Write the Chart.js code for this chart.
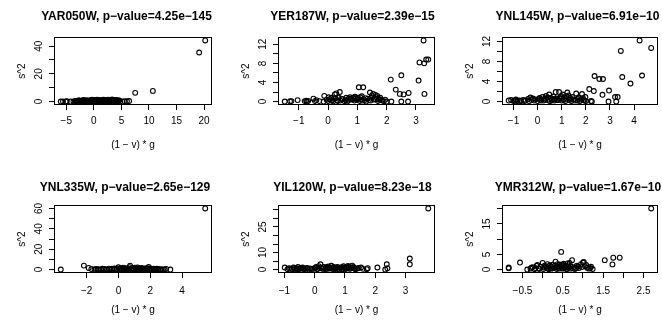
<!DOCTYPE html>
<html>
<head>
<meta charset="utf-8">
<script src="https://cdn.jsdelivr.net/npm/chart.js@4.4.1/dist/chart.umd.min.js"></script>
<style>
  body { margin: 0; background: #fff; }
  #wrap { position: relative; width: 662px; height: 325px; }
  #wrap canvas { position: absolute; left: 0; top: 0; }
</style>
</head>
<body>
<div id="wrap"></div>
<script>
// panel titles
const genes = ['YAR050W', 'YER187W', 'YNL145W', 'YNL335W', 'YIL120W', 'YMR312W'];
const pValues = ['4.25e-145', '2.39e-15', '6.91e-10', '2.65e-129', '8.23e-18', '1.67e-10'];

// points as [(1 - v) * g, s^2]
const yar050w = [
  [-6.0, 0.0], [-5.6, 0.1], [-5.1, 0.0], [-4.9, 0.2], [-4.2, 0.0], [-3.7, 0.1], [-3.4, 0.3], [-3.3, 0.4],
  [-3.1, 0.0], [-3.0, 0.2], [-2.9, 0.5], [-2.7, 0.9], [-2.6, 0.2], [-2.4, 0.0], [-2.3, 0.1], [-2.2, 0.6],
  [-2.1, 0.4], [-2.0, 0.3], [-1.9, 1.1], [-1.8, 0.1], [-1.6, 0.8], [-1.5, 0.2], [-1.4, 0.4], [-1.3, 0.9],
  [-1.2, 0.0], [-1.1, 0.5], [-1.0, 0.7], [-0.8, 0.2], [-0.7, 0.8], [-0.6, 1.0], [-0.5, 0.3], [-0.4, 0.5],
  [-0.3, 1.3], [-0.2, 0.1], [0.0, 0.9], [0.05, 0.3], [0.1, 0.6], [0.2, 0.3], [0.3, 1.2], [0.4, 0.7],
  [0.5, 0.6], [0.6, 1.4], [0.7, 0.0], [0.8, 0.2], [0.9, 0.8], [1.0, 1.1], [1.1, 0.1], [1.2, 0.4],
  [1.3, 0.7], [1.4, 0.2], [1.5, 0.5], [1.6, 0.9], [1.7, 1.3], [1.8, 0.3], [1.9, 0.5], [2.0, 1.2],
  [2.1, 0.0], [2.2, 0.8], [2.3, 1.0], [2.4, 0.2], [2.5, 0.7], [2.6, 1.4], [2.7, 0.6], [2.8, 0.3],
  [2.9, 1.1], [3.0, 0.8], [3.1, 0.4], [3.2, 1.2], [3.3, 1.5], [3.4, 0.1], [3.5, 0.6], [3.6, 0.3],
  [3.7, 1.0], [3.8, 0.7], [3.9, 0.4], [4.0, 1.1], [4.1, 0.2], [4.2, 0.3], [4.3, 0.9], [4.4, 0.6],
  [4.5, 0.5], [4.6, 0.8], [4.8, 0.1], [5.2, 0.0], [5.6, 0.3], [6.0, 0.2], [6.4, 0.4],
  [7.5, 6.3], [10.7, 7.7], [19.1, 35.4], [20.2, 44.1]
];
const yer187w = [
  [-1.48, 0.0], [-1.3, 0.05], [-1.25, 0.1], [-1.04, 0.3], [-0.8, 0.1], [-0.75, 0.2], [-0.72, 0.0], [-0.68, 0.15],
  [-0.5, 0.6], [-0.45, 0.1], [-0.4, 0.3], [-0.3, 0.1], [-0.15, 0.0], [-0.13, 1.2], [-0.05, 0.4], [0.0, 0.1],
  [0.02, 0.9], [0.05, 0.5], [0.1, 0.2], [0.12, 0.8], [0.15, 0.3], [0.18, 0.05], [0.2, 0.6], [0.23, 1.5],
  [0.25, 0.7], [0.28, 1.7], [0.3, 0.3], [0.33, 0.1], [0.35, 0.9], [0.4, 2.0], [0.42, 0.2], [0.45, 0.6],
  [0.5, 0.5], [0.55, 0.1], [0.6, 0.3], [0.62, 0.8], [0.65, 0.0], [0.68, 0.2], [0.7, 0.6], [0.75, 0.9],
  [0.78, 0.5], [0.8, 0.4], [0.85, 0.8], [0.88, 0.6], [0.9, 0.2], [0.92, 1.0], [0.95, 0.7], [0.98, 0.3],
  [1.0, 0.5], [1.02, 0.8], [1.05, 3.0], [1.08, 0.1], [1.1, 0.9], [1.12, 0.4], [1.15, 1.1], [1.18, 0.2],
  [1.2, 3.0], [1.25, 0.3], [1.28, 0.7], [1.3, 0.0], [1.35, 0.6], [1.4, 0.3], [1.43, 1.9], [1.45, 0.2],
  [1.48, 0.8], [1.5, 1.3], [1.54, 1.6], [1.58, 0.4], [1.6, 0.6], [1.62, 1.4], [1.65, 0.9], [1.68, 1.2],
  [1.7, 0.1], [1.72, 0.4], [1.75, 0.5], [1.78, 0.8], [1.8, 0.3], [1.85, 0.2], [1.9, 0.1], [1.95, 0.4],
  [2.0, 0.0], [2.14, 4.6], [2.16, 0.0], [2.31, 2.5], [2.45, 1.6], [2.5, 5.5], [2.5, 0.0], [2.58, 1.5],
  [2.73, 0.0], [2.75, 1.8], [3.09, 4.4], [3.12, 8.2], [3.26, 12.8], [3.28, 8.0], [3.29, 1.6], [3.35, 8.8],
  [3.42, 8.8]
];
const ynl145w = [
  [-1.2, 0.2], [-1.1, 0.3], [-1.0, 0.1], [-0.95, 0.2], [-0.9, 0.4], [-0.85, 0.1], [-0.75, 0.2], [-0.7, 0.1],
  [-0.6, 0.3], [-0.55, 0.1], [-0.5, 0.2], [-0.4, 0.5], [-0.35, 0.1], [-0.3, 0.8], [-0.25, 0.3], [-0.2, 0.6],
  [-0.15, 0.2], [-0.1, 0.4], [0.0, 0.1], [0.05, 0.5], [0.08, 0.7], [0.1, 0.3], [0.15, 0.2], [0.2, 0.9],
  [0.25, 0.2], [0.28, 0.4], [0.3, 0.6], [0.35, 1.1], [0.4, 0.3], [0.42, 0.8], [0.48, 1.4], [0.5, 0.1],
  [0.55, 0.7], [0.58, 0.2], [0.6, 0.4], [0.65, 1.0], [0.68, 0.5], [0.7, 0.2], [0.75, 1.9], [0.78, 0.3],
  [0.8, 0.6], [0.85, 0.3], [0.89, 1.9], [0.92, 0.6], [0.95, 0.9], [0.98, 1.1], [1.0, 0.2], [1.05, 1.4],
  [1.08, 0.3], [1.1, 0.5], [1.15, 0.1], [1.18, 0.7], [1.2, 1.0], [1.23, 1.8], [1.28, 1.2], [1.3, 0.3],
  [1.35, 0.7], [1.38, 0.4], [1.4, 0.1], [1.45, 0.9], [1.5, 0.4], [1.55, 0.2], [1.6, 1.6], [1.65, 0.2],
  [1.68, 0.5], [1.7, 0.8], [1.75, 0.1], [1.8, 0.4], [1.84, 1.5], [1.88, 0.7], [1.9, 0.3], [1.94, 0.2],
  [1.98, 0.9], [2.0, 0.1], [2.14, 2.5], [2.21, 0.1], [2.25, 0.0], [2.33, 2.1], [2.36, 5.1], [2.56, 4.5],
  [2.69, 1.35], [2.71, 4.5], [2.94, 0.0], [2.96, 2.2], [3.21, 0.9], [3.26, 0.0], [3.32, 0.9], [3.45, 10.1],
  [3.51, 4.9], [3.85, 3.6], [4.23, 12.2], [4.33, 5.2], [4.71, 10.7]
];
const ynl335w = [
  [-3.62, 0.0], [-2.17, 3.9], [-1.87, 1.6], [-1.7, 0.5], [-1.5, 0.0], [-1.4, 0.6], [-1.3, 0.3], [-1.2, 0.1],
  [-1.1, 0.1], [-1.0, 0.8], [-0.9, 0.6], [-0.8, 0.2], [-0.7, 0.2], [-0.6, 0.9], [-0.5, 0.3], [-0.4, 0.8],
  [-0.3, 0.5], [-0.25, 1.2], [-0.2, 0.1], [-0.1, 0.4], [0.0, 2.2], [0.05, 0.6], [0.1, 0.9], [0.15, 1.3],
  [0.2, 0.3], [0.25, 0.2], [0.3, 1.9], [0.35, 0.6], [0.4, 0.9], [0.45, 1.4], [0.5, 0.2], [0.55, 0.4],
  [0.6, 1.1], [0.65, 0.1], [0.7, 2.4], [0.73, 3.9], [0.8, 0.7], [0.85, 1.1], [0.9, 1.5], [0.95, 0.2],
  [1.0, 0.3], [1.05, 1.9], [1.1, 0.8], [1.15, 0.5], [1.2, 2.0], [1.25, 0.1], [1.3, 1.2], [1.35, 0.8],
  [1.4, 0.4], [1.45, 1.6], [1.5, 1.0], [1.55, 0.3], [1.6, 0.2], [1.65, 0.7], [1.7, 1.3], [1.75, 0.1],
  [1.8, 0.6], [1.85, 1.3], [1.9, 2.6], [1.95, 0.4], [2.0, 1.1], [2.05, 0.7], [2.1, 0.3], [2.2, 0.9],
  [2.25, 0.3], [2.35, 0.2], [2.4, 0.8], [2.5, 0.6], [2.6, 0.0], [2.7, 0.3], [2.8, 0.1], [2.9, 0.0],
  [3.0, 0.6], [3.26, 0.0], [5.45, 60.0]
];
const yil120w = [
  [-0.99, 1.2], [-0.9, 0.2], [-0.85, 0.8], [-0.8, 0.5], [-0.75, 0.3], [-0.7, 1.3], [-0.68, 0.9], [-0.65, 0.1],
  [-0.6, 0.8], [-0.58, 0.2], [-0.55, 1.5], [-0.5, 0.3], [-0.48, 0.7], [-0.45, 0.9], [-0.4, 1.2], [-0.38, 0.5],
  [-0.35, 0.2], [-0.3, 0.6], [-0.25, 1.0], [-0.2, 0.1], [-0.15, 0.7], [-0.1, 0.3], [-0.05, 0.4], [0.0, 0.8],
  [0.02, 1.1], [0.05, 1.6], [0.08, 0.2], [0.1, 0.4], [0.13, 2.0], [0.15, 1.0], [0.19, 3.1], [0.2, 1.2],
  [0.25, 0.5], [0.28, 0.6], [0.3, 1.5], [0.35, 0.2], [0.38, 1.4], [0.4, 1.1], [0.42, 0.4], [0.45, 1.8],
  [0.48, 1.0], [0.5, 0.6], [0.55, 2.2], [0.58, 0.7], [0.6, 0.3], [0.62, 1.5], [0.65, 1.3], [0.68, 0.3],
  [0.7, 0.8], [0.72, 1.1], [0.75, 1.6], [0.78, 0.6], [0.8, 0.1], [0.85, 1.0], [0.88, 1.4], [0.9, 0.5],
  [0.92, 0.2], [0.95, 1.9], [0.98, 1.2], [1.0, 0.7], [1.02, 0.3], [1.05, 1.4], [1.08, 0.9], [1.1, 2.1],
  [1.12, 1.6], [1.15, 0.4], [1.18, 0.6], [1.2, 1.2], [1.24, 2.3], [1.28, 1.5], [1.3, 0.9], [1.32, 0.4],
  [1.35, 0.2], [1.4, 0.6], [1.45, 0.9], [1.53, 1.2], [1.6, 0.4], [1.72, 0.2], [1.75, 0.8], [2.07, 1.2],
  [2.33, 0.0], [2.38, 3.1], [2.4, 0.8], [3.14, 3.1], [3.14, 6.5], [3.75, 35.9]
];
const ymr312w = [
  [-0.84, 0.66], [-0.84, 0.4], [-0.56, 2.3], [-0.38, 0.0], [-0.3, 0.3], [-0.28, 0.6], [-0.25, 0.8], [-0.2, 0.1],
  [-0.18, 0.5], [-0.15, 1.2], [-0.13, 1.5], [-0.1, 0.4], [-0.08, 0.2], [-0.05, 0.9], [0.0, 2.2], [0.02, 0.2],
  [0.04, 0.7], [0.05, 1.3], [0.08, 1.0], [0.1, 0.6], [0.12, 1.8], [0.14, 0.5], [0.15, 0.1], [0.18, 1.4],
  [0.2, 1.0], [0.22, 0.3], [0.24, 0.4], [0.25, 1.6], [0.28, 0.7], [0.3, 1.2], [0.32, 2.6], [0.34, 0.7],
  [0.35, 0.2], [0.37, 1.8], [0.38, 1.1], [0.4, 0.5], [0.41, 0.3], [0.42, 1.7], [0.44, 0.9], [0.45, 1.2],
  [0.46, 5.8], [0.47, 0.6], [0.48, 1.4], [0.5, 0.3], [0.5, 1.6], [0.52, 1.9], [0.53, 0.4], [0.55, 0.8],
  [0.57, 1.0], [0.58, 1.2], [0.6, 0.1], [0.61, 0.6], [0.62, 2.0], [0.64, 1.4], [0.65, 0.6], [0.67, 2.2],
  [0.69, 0.3], [0.7, 1.0], [0.73, 3.1], [0.75, 0.4], [0.78, 0.8], [0.8, 0.2], [0.83, 0.5], [0.85, 1.3],
  [0.88, 1.0], [0.9, 0.5], [0.95, 1.8], [0.97, 0.8], [1.0, 2.3], [1.02, 2.5], [1.05, 1.1], [1.08, 1.5],
  [1.1, 0.6], [1.15, 0.3], [1.18, 0.5], [1.2, 0.9], [1.24, 0.2], [1.54, 3.1], [1.73, 1.7], [1.75, 3.9],
  [1.91, 3.9], [2.69, 20.1]
];

// tick positions and which of them carry a label
const xTicks = [
  [-5, 0, 5, 10, 15, 20], [-1, 0, 1, 2, 3], [-1, 0, 1, 2, 3, 4],
  [-2, 0, 2, 4], [-1, 0, 1, 2, 3], [-0.5, 0, 0.5, 1, 1.5, 2, 2.5]
];
const xLabels = [
  [-5, 0, 5, 10, 15, 20], [-1, 0, 1, 2, 3], [-1, 0, 1, 2, 3, 4],
  [-2, 0, 2, 4], [-1, 0, 1, 2, 3], [-0.5, 0.5, 1.5, 2.5]
];
const yTicks = [
  [0, 10, 20, 30, 40], [0, 2, 4, 6, 8, 10, 12], [0, 2, 4, 6, 8, 10, 12],
  [0, 10, 20, 30, 40, 50, 60], [0, 5, 10, 15, 20, 25, 30, 35], [0, 5, 10, 15, 20]
];
const yLabels = [
  [0, 20, 40], [0, 4, 8, 12], [0, 4, 8, 12],
  [0, 20, 40, 60], [0, 10, 25], [0, 5, 15]
];
const series = [yar050w, yer187w, ynl145w, ynl335w, yil120w, ymr312w];

// layout of the 2 x 3 grid (plot boxes in pixels)
const cols = [[55, 211], [279, 434], [503, 659]];
const rows = [
  { top: 38, bottom: 104, axisH: 47, tickPad: 5, titleGap: 18.5 },
  { top: 206, bottom: 272, axisH: 44, tickPad: 7, titleGap: 15.5 }
];
const titleShift = [-6.5, -4, -2.5, -8, -4, -2];
const W = 662, H = 325, Y_AXIS_W = 40;
const FONT = '"Liberation Sans", Arial, Helvetica, sans-serif';

Chart.defaults.font.family = FONT;
Chart.defaults.font.size = 10;
Chart.defaults.color = '#000';

// R style: data range padded by 4% on both sides
function paddedRange(vals) {
  const lo = Math.min(...vals), hi = Math.max(...vals);
  const d = (hi - lo) * 0.04;
  return [lo - d, hi + d];
}
const fmt = v => (v < 0 ? '\u2212' + Math.abs(v) : String(v));

// box around the plot and the bold title
const panelFrame = {
  id: 'panelFrame',
  afterDraw(chart, args, opts) {
    const { ctx, chartArea: a } = chart;
    ctx.save();
    ctx.strokeStyle = '#000';
    ctx.lineWidth = 1;
    const l = Math.round(a.left) - 0.5, t = Math.round(a.top) - 0.5;
    ctx.strokeRect(l, t, Math.round(a.right) - Math.round(a.left) + 1, Math.round(a.bottom) - Math.round(a.top) + 1);
    ctx.font = 'bold 12px ' + FONT;
    ctx.fillStyle = '#000';
    ctx.textAlign = 'center';
    ctx.textBaseline = 'alphabetic';
    ctx.fillText(opts.text, (a.left + a.right) / 2 + opts.shift, a.top - opts.gap);
    ctx.restore();
  }
};

const wrap = document.getElementById('wrap');
series.forEach((pts, i) => {
  const col = cols[i % 3], row = rows[Math.floor(i / 3)];
  const canvas = document.createElement('canvas');
  canvas.width = W;
  canvas.height = H;
  wrap.appendChild(canvas);

  const [xMin, xMax] = paddedRange(pts.map(p => p[0]));
  const [yMin, yMax] = paddedRange(pts.map(p => p[1]));
  const title = genes[i] + ', p\u2212value=' + pValues[i].replace('-', '\u2212');

  new Chart(canvas.getContext('2d'), {
    type: 'scatter',
    data: {
      datasets: [{
        data: pts.map(p => ({ x: p[0], y: p[1] })),
        pointStyle: 'circle',
        pointRadius: 2.4,
        pointBorderWidth: 1.1,
        pointBorderColor: '#000',
        pointBackgroundColor: 'rgba(0,0,0,0)'
      }]
    },
    options: {
      responsive: false,
      animation: false,
      events: [],
      layout: {
        padding: {
          left: col[0] - Y_AXIS_W,
          right: W - col[1],
          top: row.top,
          bottom: H - row.bottom - row.axisH
        }
      },
      scales: {
        x: {
          type: 'linear',
          min: xMin,
          max: xMax,
          afterBuildTicks: s => { s.ticks = xTicks[i].map(v => ({ value: v })); },
          afterFit: s => { s.height = row.axisH; },
          ticks: {
            autoSkip: false,
            maxRotation: 0,
            minRotation: 0,
            padding: row.tickPad,
            callback: v => (xLabels[i].includes(v) ? fmt(v) : '')
          },
          grid: { drawOnChartArea: false, drawTicks: true, tickLength: 6, color: '#000' },
          border: { display: false },
          title: { display: true, text: '(1 \u2212 v) * g', padding: 0, font: { size: 10 } }
        },
        y: {
          type: 'linear',
          min: yMin,
          max: yMax,
          afterBuildTicks: s => { s.ticks = yTicks[i].map(v => ({ value: v })); },
          afterFit: s => { s.width = Y_AXIS_W; },
          ticks: {
            autoSkip: false,
            minRotation: 90,
            maxRotation: 90,
            crossAlign: 'center',
            padding: 4,
            callback: v => (yLabels[i].includes(v) ? fmt(v) : '')
          },
          grid: { drawOnChartArea: false, drawTicks: true, tickLength: 6, color: '#000' },
          border: { display: false },
          title: { display: true, text: 's^2', padding: { top: 1, bottom: 0 }, font: { size: 10 } }
        }
      },
      plugins: {
        legend: { display: false },
        tooltip: { enabled: false },
        panelFrame: { text: title, shift: titleShift[i], gap: row.titleGap }
      }
    },
    plugins: [panelFrame]
  });
});
</script>
</body>
</html>
